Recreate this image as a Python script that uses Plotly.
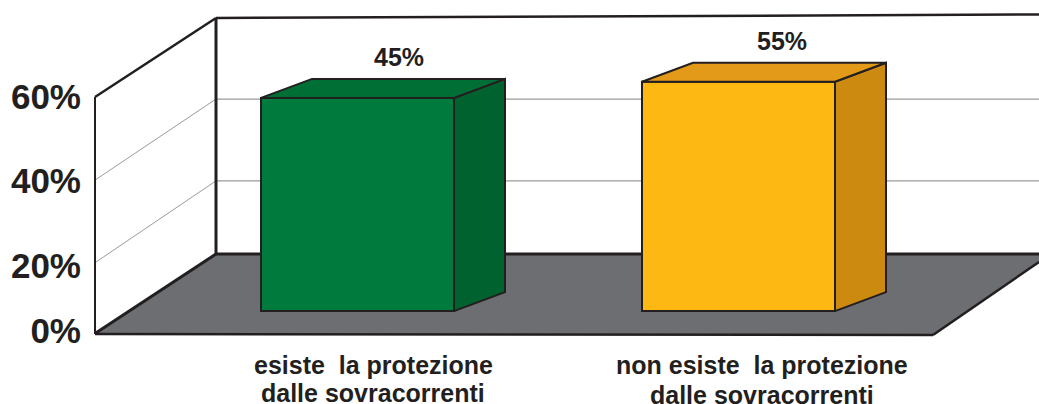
import plotly.graph_objects as go
import numpy as np

# ---- data ----
categories = ["esiste\u00a0\u00a0la protezione<br>dalle sovracorrenti",
              "non esiste\u00a0\u00a0la protezione<br>dalle sovracorrenti"]
value_labels = ["45%", "55%"]
# bar ends as drawn, read against the front 0-60% axis
bar_base = [5.7, 5.7]
bar_top = [59.9, 64.0]
# axis labels and where they sit on the axis
tick_text = ["0%", "20%", "40%", "60%"]
tick_pos = [0.6, 17.2, 38.8, 60.25]
# gridlines as drawn (axis units)
grid_front = [18.0, 39.0]
grid_back = [18.6, 39.4]

front_colors = ["#007A3D", "#FDB813"]
side_colors = ["#00622F", "#CC8A10"]
top_colors = ["#006F35", "#E29A18"]
INK = "#231F20"
FLOOR = "#6D6E71"
GRID = "#9A9A9A"

# ---- scales ----
W, H = 1039, 404
PX_PER_UNIT_Y = 3.933
Y0_PX = 333.5
PX_PER_CAT = 381.0
CAT0_PX = 357.5

y_range = [(Y0_PX - H) / PX_PER_UNIT_Y, Y0_PX / PX_PER_UNIT_Y]
x_range = [-CAT0_PX / PX_PER_CAT, (W - CAT0_PX) / PX_PER_CAT]
bar_w = 193 / PX_PER_CAT
depth_x = 51 / PX_PER_CAT
depth_y = 19 / PX_PER_UNIT_Y
idx = np.arange(len(categories))


def fx(px):
    return px / W


def fy(py):
    return 1 - py / H


def poly(points, fill, line_color=INK, line_width=2.5):
    path = "M " + " L ".join(f"{fx(a):.5f},{fy(b):.5f}" for a, b in points) + " Z"
    return dict(type="path", xref="paper", yref="paper", path=path, layer="below",
                fillcolor=fill, line=dict(color=line_color, width=line_width))


def seg(p, q, color=INK, width=3):
    return dict(type="line", xref="paper", yref="paper", layer="below",
                x0=fx(p[0]), y0=fy(p[1]), x1=fx(q[0]), y1=fy(q[1]),
                line=dict(color=color, width=width))


shapes = []
# floor
shapes.append(poly([(95, 333.5), (933, 335), (1039, 262), (1039, 254), (216, 254)], FLOOR, INK, 0))
# gridlines
for gf, gb in zip(grid_front, grid_back):
    yf = Y0_PX - gf * PX_PER_UNIT_Y
    yb = 254 - gb * PX_PER_UNIT_Y
    shapes.append(seg((95, yf), (216, yb), GRID, 1))
    shapes.append(seg((216, yb), (1039, yb), GRID, 1.2))
# frame
shapes += [
    seg((95, 97), (95, 334), INK, 2),
    seg((95, 97), (216, 18), INK, 2.5),
    seg((216, 18), (216, 254), INK, 3),
    seg((216, 18), (1039, 14.5), INK, 2.5),
    seg((95, 333.5), (216, 254), INK, 3),
    seg((216, 254), (1039, 254), INK, 3),
    seg((95, 334), (933, 335), INK, 2.5),
    seg((933, 335), (1039, 262), INK, 2.5),
]

fig = go.Figure()
fig.add_trace(go.Bar(
    x=idx, y=np.array(bar_top) - np.array(bar_base), base=bar_base, width=bar_w,
    marker=dict(color=front_colors, line=dict(color=INK, width=2)),
    showlegend=False, hoverinfo="skip"))

for i in idx:
    xr = i + bar_w / 2
    xl = i - bar_w / 2
    t = bar_top[i]
    b = bar_base[i]
    fig.add_trace(go.Scatter(
        x=[xr, xr + depth_x, xr + depth_x, xr, xr], y=[b, b + depth_y, t + depth_y, t, b],
        mode="lines", fill="toself", fillcolor=side_colors[i],
        line=dict(color=INK, width=2), showlegend=False, hoverinfo="skip"))
    fig.add_trace(go.Scatter(
        x=[xl, xl + depth_x, xr + depth_x, xr, xl], y=[t, t + depth_y, t + depth_y, t, t],
        mode="lines", fill="toself", fillcolor=top_colors[i],
        line=dict(color=INK, width=2), showlegend=False, hoverinfo="skip"))

annotations = []
line_shift = [[-54, -82], [-54, -83.5]]
for i in idx:
    annotations.append(dict(x=i, y=bar_top[i], xref="x", yref="y", text=value_labels[i],
                            showarrow=False, xshift=[41.5, 43.5][i], yshift=41,
                            xanchor="center", yanchor="middle",
                            font=dict(family="Liberation Sans", size=25, color=INK, weight=700)))
    for j, line in enumerate(categories[i].split("<br>")):
        annotations.append(dict(x=i, y=bar_base[i], xref="x", yref="y", text=line,
                                showarrow=False, xshift=[15.5, 23][i], yshift=line_shift[i][j],
                                xanchor="center", yanchor="middle", align="center",
                                font=dict(family="Liberation Sans", size=25, color=INK, weight=700)))

fig.update_layout(
    width=W, height=H, margin=dict(l=0, r=0, t=0, b=0),
    paper_bgcolor="white", plot_bgcolor="white", showlegend=False,
    shapes=shapes, annotations=annotations,
    xaxis=dict(range=x_range, visible=False, fixedrange=True),
    yaxis=dict(range=y_range, anchor="free", position=95 / W, showgrid=False, zeroline=False,
               showline=False, tickmode="array", tickvals=tick_pos, ticktext=tick_text,
               ticks="outside", ticklen=7, tickcolor="rgba(0,0,0,0)",
               tickfont=dict(family="Liberation Sans", size=35, color=INK, weight=700),
               fixedrange=True),
)
fig.write_html("out.html", config={"displayModeBar": False},
               post_script="document.body.style.margin='0';document.body.style.overflow='hidden';")
